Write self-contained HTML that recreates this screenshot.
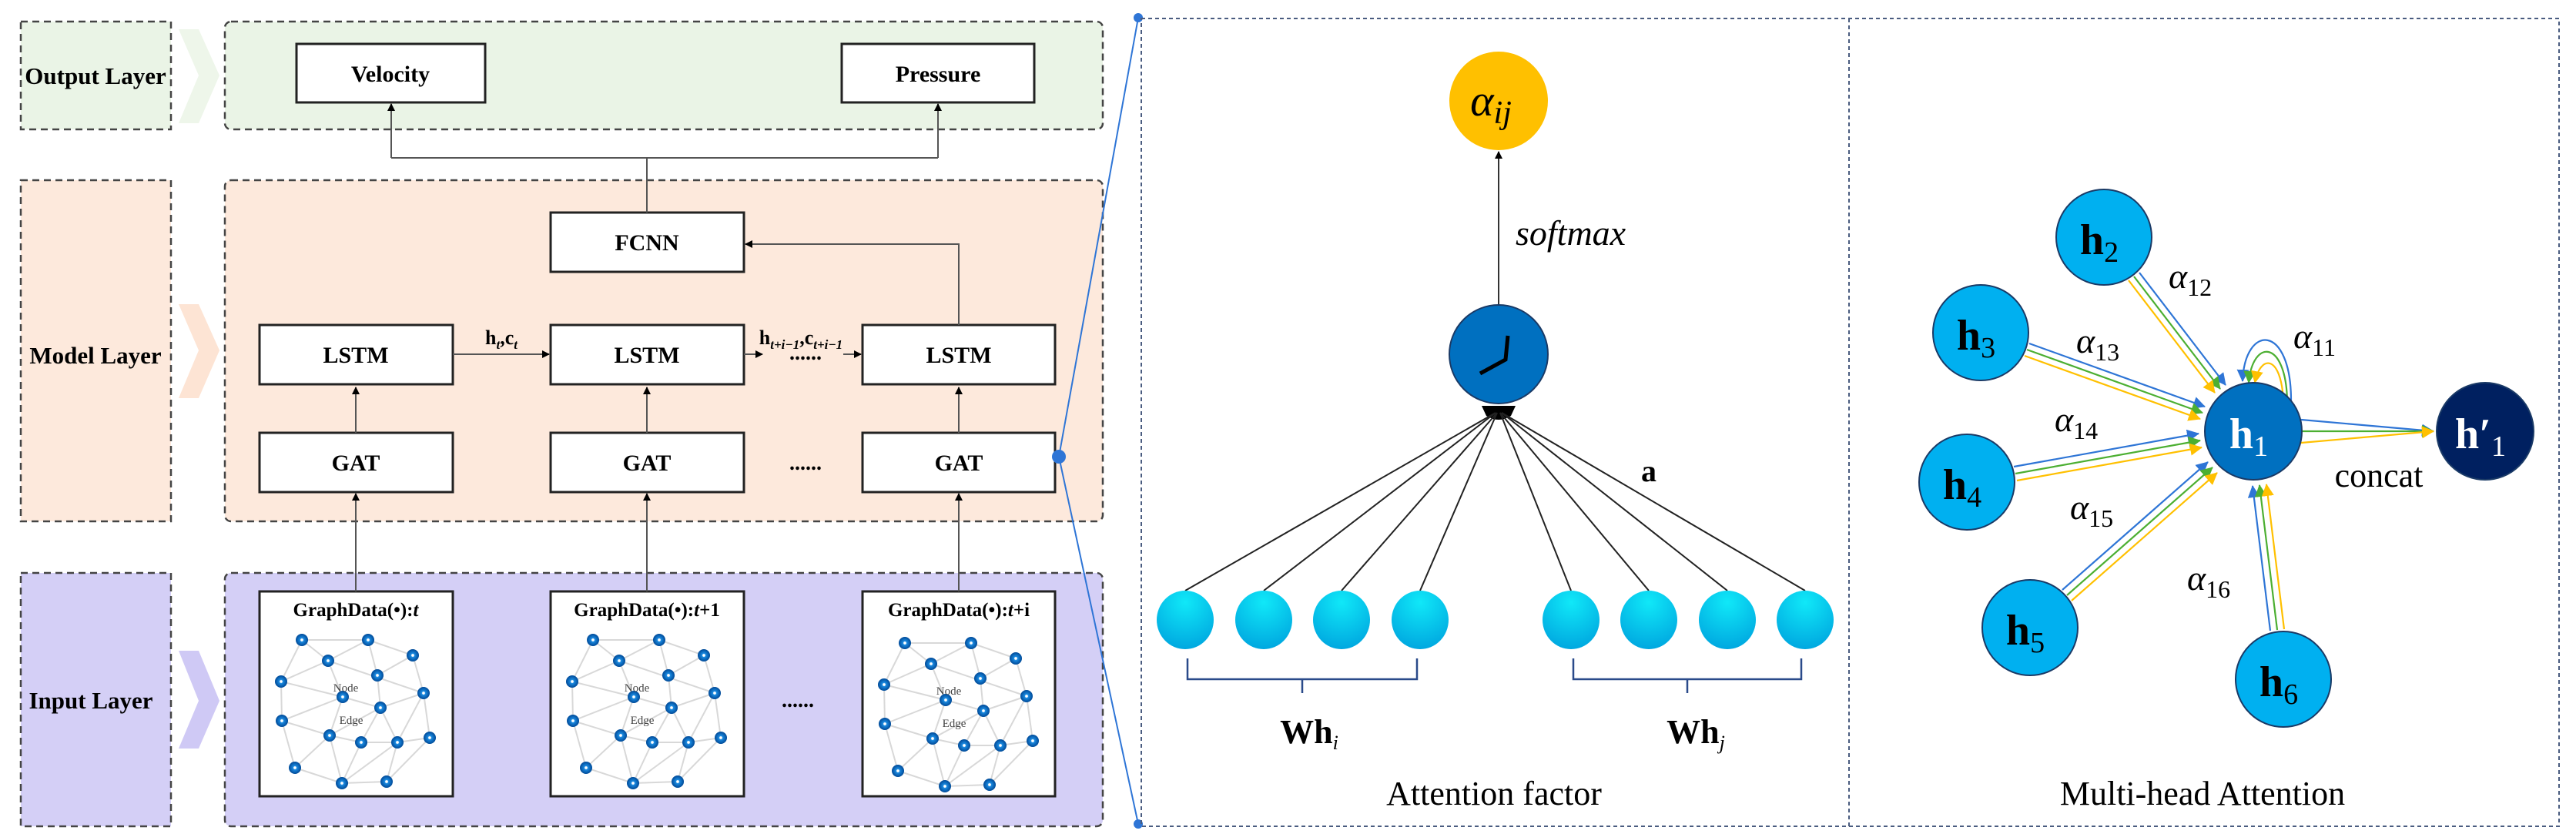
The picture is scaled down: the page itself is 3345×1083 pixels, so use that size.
<!DOCTYPE html>
<html><head><meta charset="utf-8"><style>
html,body{margin:0;padding:0;background:#fff}
svg{display:block}
text{font-family:"Liberation Serif","DejaVu Serif",serif}
.b{font-weight:bold}
</style></head><body>
<svg width="3345" height="1083" viewBox="0 0 3345 1083" xmlns="http://www.w3.org/2000/svg">
<defs>
<marker id="ak" markerWidth="10" markerHeight="10" refX="9" refY="5" orient="auto" markerUnits="userSpaceOnUse"><path d="M0,0L10,5L0,10z" fill="#000"/></marker>
<marker id="mb" markerWidth="16" markerHeight="16" refX="15" refY="8" orient="auto" markerUnits="userSpaceOnUse"><path d="M0,0L16,8L0,16z" fill="#2e75d6"/></marker>
<marker id="mg" markerWidth="16" markerHeight="16" refX="15" refY="8" orient="auto" markerUnits="userSpaceOnUse"><path d="M0,0L16,8L0,16z" fill="#4caf32"/></marker>
<marker id="my" markerWidth="16" markerHeight="16" refX="15" refY="8" orient="auto" markerUnits="userSpaceOnUse"><path d="M0,0L16,8L0,16z" fill="#ffc000"/></marker>
<radialGradient id="ball" cx="0.5" cy="0.2" r="0.8"><stop offset="0" stop-color="#10e8f8"/><stop offset="1" stop-color="#00a8e0"/></radialGradient>
<radialGradient id="gd" cx="0.5" cy="0.5" r="0.5"><stop offset="0.18" stop-color="#fff"/><stop offset="0.3" stop-color="#1a8ae0"/><stop offset="1" stop-color="#004a98"/></radialGradient>
<g id="graph" stroke="#d8d8d8" stroke-width="2" fill="none">
<path d="M55,63L141,63M55,63L89,90M55,63L28,117M141,63L153,109M141,63L199,83M89,90L141,63M28,117L89,90M89,90L108,137M89,90L213,132M28,117L108,137M28,117L29,168M108,137L29,168M108,137L157,151M153,109L157,151M153,109L199,83M199,83L213,132M213,132L157,151M213,132L179,196M213,132L221,190M157,151L91,187M157,151L132,196M157,151L179,196M29,168L91,187M29,168L46,229M91,187L132,196M91,187L46,229M91,187L107,249M132,196L179,196M132,196L107,249M179,196L221,190M179,196L107,249M179,196L165,247M221,190L165,247M46,229L107,249M107,249L165,247M108,137L91,187"/>
<g stroke="none" fill="url(#gd)">
<circle cx="55" cy="63" r="8"/><circle cx="141" cy="63" r="8"/><circle cx="199" cy="83" r="8"/><circle cx="89" cy="90" r="8"/><circle cx="153" cy="109" r="8"/><circle cx="28" cy="117" r="8"/><circle cx="108" cy="137" r="8"/><circle cx="213" cy="132" r="8"/><circle cx="157" cy="151" r="8"/><circle cx="29" cy="168" r="8"/><circle cx="91" cy="187" r="8"/><circle cx="132" cy="196" r="8"/><circle cx="179" cy="196" r="8"/><circle cx="221" cy="190" r="8"/><circle cx="46" cy="229" r="8"/><circle cx="107" cy="249" r="8"/><circle cx="165" cy="247" r="8"/>
</g>
</g>
</defs>

<g stroke="#444" stroke-width="2.5" stroke-dasharray="9,6">
<rect x="27" y="28" width="195" height="140" fill="#eaf4e6"/>
<rect x="292" y="28" width="1140" height="140" rx="8" fill="#eaf4e6"/>
<rect x="27" y="234" width="195" height="443" fill="#fde9dc"/>
<rect x="292" y="234" width="1140" height="443" rx="8" fill="#fde9dc"/>
<rect x="27" y="744" width="195" height="329" fill="#d4cff6"/>
<rect x="292" y="744" width="1140" height="329" rx="8" fill="#d4cff6"/>
</g>
<path d="M232,38L258,38L285,98L258,160L232,160L258,98z" fill="#eef6ea"/>
<path d="M232,395L258,395L285,455L258,517L232,517L258,455z" fill="#fde4d4"/>
<path d="M232,845L258,845L285,910L258,972L232,972L258,910z" fill="#cfc9f5"/>
<text x="124" y="109" font-size="31" class="b" text-anchor="middle">Output Layer</text>
<text x="124" y="472" font-size="31" class="b" text-anchor="middle">Model Layer</text>
<text x="118" y="920" font-size="31" class="b" text-anchor="middle">Input Layer</text>

<g fill="#fff" stroke="#222" stroke-width="3">
<rect x="385" y="57" width="245" height="76"/>
<rect x="1093" y="57" width="250" height="76"/>
<rect x="715" y="276" width="251" height="77"/>
<rect x="337" y="422" width="251" height="77"/><rect x="715" y="422" width="251" height="77"/><rect x="1120" y="422" width="250" height="77"/>
<rect x="337" y="562" width="251" height="77"/><rect x="715" y="562" width="251" height="77"/><rect x="1120" y="562" width="250" height="77"/>
<rect x="337" y="768" width="251" height="266"/><rect x="715" y="768" width="251" height="266"/><rect x="1120" y="768" width="250" height="266"/>
</g>
<g font-size="30" class="b" text-anchor="middle">
<text x="507" y="106">Velocity</text><text x="1218" y="106">Pressure</text>
<text x="840" y="325">FCNN</text>
<text x="462" y="471">LSTM</text><text x="840" y="471">LSTM</text><text x="1245" y="471">LSTM</text>
<text x="462" y="611">GAT</text><text x="840" y="611">GAT</text><text x="1245" y="611">GAT</text>
</g>
<g font-size="25" class="b" text-anchor="middle">
<text x="462" y="800">GraphData(•):<tspan font-style="italic">t</tspan></text>
<text x="840" y="800">GraphData(•):<tspan font-style="italic">t</tspan>+1</text>
<text x="1245" y="800">GraphData(•):<tspan font-style="italic">t</tspan>+i</text>
</g>
<use href="#graph" x="337" y="768"/><use href="#graph" x="715" y="768"/><use href="#graph" x="1120" y="772"/>
<g font-size="15" fill="#444" text-anchor="middle">
<text x="449" y="898">Node</text><text x="456" y="940">Edge</text>
<text x="827" y="898">Node</text><text x="834" y="940">Edge</text>
<text x="1232" y="902">Node</text><text x="1239" y="944">Edge</text>
</g>
<g stroke="#555" stroke-width="2" fill="none">
<path d="M840,276V205M508,205H1218M508,205V135" marker-end="url(#ak)"/>
<path d="M1218,205V135" marker-end="url(#ak)"/>
<path d="M1245,422V317H968" marker-end="url(#ak)"/>
<path d="M588,460H713" marker-end="url(#ak)"/>
<path d="M966,460H990" marker-end="url(#ak)"/>
<path d="M1095,460H1118" marker-end="url(#ak)"/>
<path d="M462,768V641" marker-end="url(#ak)"/><path d="M840,768V641" marker-end="url(#ak)"/><path d="M1245,768V641" marker-end="url(#ak)"/>
<path d="M462,562V503" marker-end="url(#ak)"/><path d="M840,562V503" marker-end="url(#ak)"/><path d="M1245,562V503" marker-end="url(#ak)"/>
</g>
<text x="651" y="447" font-size="26" class="b" text-anchor="middle">h<tspan font-size="17" dy="6" font-style="italic">t</tspan><tspan dy="-6">,c</tspan><tspan font-size="17" dy="6" font-style="italic">t</tspan></text>
<text x="1040" y="447" font-size="26" class="b" text-anchor="middle">h<tspan font-size="17" dy="6" font-style="italic">t+i−1</tspan><tspan dy="-6">,c</tspan><tspan font-size="17" dy="6" font-style="italic">t+i−1</tspan></text>
<g font-size="28" class="b" text-anchor="middle"><text x="1046" y="467">......</text><text x="1046" y="610">......</text><text x="1036" y="918">......</text></g>

<g stroke="#2e75d6" stroke-width="2"><line x1="1375" y1="593" x2="1478" y2="23"/><line x1="1375" y1="593" x2="1478" y2="1070"/></g>
<circle cx="1375" cy="593" r="9" fill="#2e75d6"/><circle cx="1478" cy="23" r="6" fill="#2e75d6"/><circle cx="1478" cy="1070" r="6" fill="#2e75d6"/>

<g fill="none" stroke="#4a5c80" stroke-width="2" stroke-dasharray="5,4">
<rect x="1482" y="24" width="1841" height="1049"/>
<line x1="2401" y1="24" x2="2401" y2="1073"/>
</g>

<circle cx="1946" cy="131" r="64" fill="#ffc000"/>
<text x="1936" y="150" font-size="58" font-style="italic" text-anchor="middle">α<tspan font-size="42" dy="10">ij</tspan></text>
<line x1="1946" y1="402" x2="1946" y2="197" stroke="#333" stroke-width="2" marker-end="url(#ak)"/>
<text x="1968" y="318" font-size="46" font-style="italic">softmax</text>
<circle cx="1946" cy="460" r="64" fill="#0070c0" stroke="#1a3a66" stroke-width="2"/>
<path d="M1922,485L1955,467L1958,436" stroke="#000" stroke-width="5" fill="none"/>
<path d="M1924,527H1968L1962,540Q1946,550 1930,540z" fill="#000"/>
<g stroke="#222" stroke-width="2">
<line x1="1539" y1="767" x2="1942" y2="536"/><line x1="1641" y1="767" x2="1942" y2="536"/><line x1="1742" y1="767" x2="1944" y2="536"/><line x1="1844" y1="767" x2="1944" y2="536"/>
<line x1="2040" y1="767" x2="1948" y2="536"/><line x1="2141" y1="767" x2="1948" y2="536"/><line x1="2243" y1="767" x2="1950" y2="536"/><line x1="2344" y1="767" x2="1950" y2="536"/>
</g>
<g fill="url(#ball)">
<ellipse cx="1539" cy="805" rx="37" ry="38"/><ellipse cx="1641" cy="805" rx="37" ry="38"/><ellipse cx="1742" cy="805" rx="37" ry="38"/><ellipse cx="1844" cy="805" rx="37" ry="38"/>
<ellipse cx="2040" cy="805" rx="37" ry="38"/><ellipse cx="2141" cy="805" rx="37" ry="38"/><ellipse cx="2243" cy="805" rx="37" ry="38"/><ellipse cx="2344" cy="805" rx="37" ry="38"/>
</g>
<g stroke="#2a4a8a" stroke-width="2.5" fill="none">
<path d="M1542,855V882H1840V855M1691,882V900"/>
<path d="M2043,855V882H2339V855M2191,882V900"/>
</g>
<text x="1700" y="965" font-size="44" class="b" text-anchor="middle">Wh<tspan font-size="26" font-weight="normal" font-style="italic" dy="8">i</tspan></text>
<text x="2202" y="965" font-size="44" class="b" text-anchor="middle">Wh<tspan font-size="26" font-weight="normal" font-style="italic" dy="8">j</tspan></text>
<text x="2131" y="625" font-size="40" class="b">a</text>
<text x="1940" y="1045" font-size="44" text-anchor="middle">Attention factor</text>

<g stroke-width="2.2" fill="none">
<line x1="2778" y1="354" x2="2890" y2="500" stroke="#2e75d6" marker-end="url(#mb)"/>
<line x1="2771" y1="359" x2="2883" y2="505" stroke="#4caf32" marker-end="url(#mg)"/>
<line x1="2764" y1="364" x2="2876" y2="510" stroke="#ffc000" marker-end="url(#my)"/>
<line x1="2635" y1="446" x2="2863" y2="528" stroke="#2e75d6" marker-end="url(#mb)"/>
<line x1="2632" y1="454" x2="2860" y2="536" stroke="#4caf32" marker-end="url(#mg)"/>
<line x1="2629" y1="462" x2="2857" y2="544" stroke="#ffc000" marker-end="url(#my)"/>
<line x1="2615" y1="606" x2="2855" y2="563" stroke="#2e75d6" marker-end="url(#mb)"/>
<line x1="2617" y1="615" x2="2857" y2="572" stroke="#4caf32" marker-end="url(#mg)"/>
<line x1="2619" y1="624" x2="2859" y2="581" stroke="#ffc000" marker-end="url(#my)"/>
<line x1="2678" y1="766" x2="2867" y2="600" stroke="#2e75d6" marker-end="url(#mb)"/>
<line x1="2684" y1="773" x2="2873" y2="607" stroke="#4caf32" marker-end="url(#mg)"/>
<line x1="2690" y1="780" x2="2879" y2="614" stroke="#ffc000" marker-end="url(#my)"/>
<line x1="2948" y1="819" x2="2925" y2="631" stroke="#2e75d6" marker-end="url(#mb)"/>
<line x1="2957" y1="818" x2="2934" y2="630" stroke="#4caf32" marker-end="url(#mg)"/>
<line x1="2966" y1="817" x2="2943" y2="629" stroke="#ffc000" marker-end="url(#my)"/>
<line x1="2988" y1="545" x2="3160" y2="560" stroke="#2e75d6" marker-end="url(#mb)"/>
<line x1="2990" y1="560" x2="3160" y2="560" stroke="#4caf32" marker-end="url(#mg)"/>
<line x1="2988" y1="575" x2="3160" y2="560" stroke="#ffc000" marker-end="url(#my)"/>
<path d="M2975,520C2975,420 2915,420 2912,495" stroke="#2e75d6" marker-end="url(#mb)"/>
<path d="M2970,520C2968,440 2925,440 2920,497" stroke="#4caf32" marker-end="url(#mg)"/>
<path d="M2965,520C2962,460 2935,460 2928,497" stroke="#ffc000" marker-end="url(#my)"/>
</g>
<g stroke="#1a3a66" stroke-width="2">
<circle cx="2732" cy="308" r="62" fill="#00b0f0"/>
<circle cx="2572" cy="432" r="62" fill="#00b0f0"/>
<circle cx="2554" cy="626" r="62" fill="#00b0f0"/>
<circle cx="2636" cy="815" r="62" fill="#00b0f0"/>
<circle cx="2965" cy="882" r="62" fill="#00b0f0"/>
<circle cx="2926" cy="560" r="63" fill="#0070c0"/>
<circle cx="3227" cy="560" r="63" fill="#002060"/>
</g>
<g font-size="56" class="b" text-anchor="middle">
<text x="2726" y="330">h<tspan font-size="38" font-weight="normal" dy="10">2</tspan></text>
<text x="2566" y="454">h<tspan font-size="38" font-weight="normal" dy="10">3</tspan></text>
<text x="2548" y="648">h<tspan font-size="38" font-weight="normal" dy="10">4</tspan></text>
<text x="2630" y="837">h<tspan font-size="38" font-weight="normal" dy="10">5</tspan></text>
<text x="2959" y="904">h<tspan font-size="38" font-weight="normal" dy="10">6</tspan></text>
<text x="2920" y="582" fill="#fff">h<tspan font-size="38" font-weight="normal" dy="10">1</tspan></text>
<text x="3221" y="582" fill="#fff">h′<tspan font-size="38" font-weight="normal" dy="10">1</tspan></text>
</g>
<g font-size="46" font-style="italic">
<text x="2816" y="374">α<tspan font-size="32" font-style="normal" dy="10">12</tspan></text>
<text x="2696" y="458">α<tspan font-size="32" font-style="normal" dy="10">13</tspan></text>
<text x="2978" y="452">α<tspan font-size="32" font-style="normal" dy="10">11</tspan></text>
<text x="2668" y="560">α<tspan font-size="32" font-style="normal" dy="10">14</tspan></text>
<text x="2688" y="674">α<tspan font-size="32" font-style="normal" dy="10">15</tspan></text>
<text x="2840" y="766">α<tspan font-size="32" font-style="normal" dy="10">16</tspan></text>
</g>
<text x="3089" y="632" font-size="44" text-anchor="middle">concat</text>
<text x="2860" y="1045" font-size="44" text-anchor="middle">Multi-head Attention</text>
</svg>
</body></html>
